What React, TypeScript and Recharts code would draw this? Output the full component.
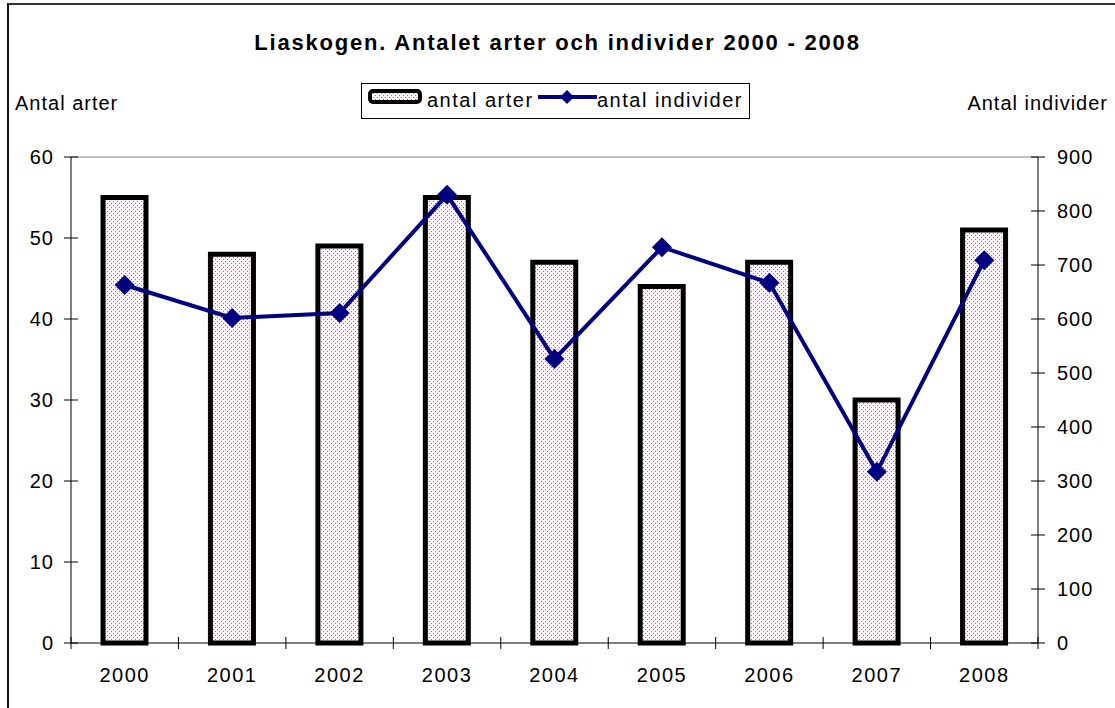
import React from 'react'
import { Bar, ComposedChart, Line, ReferenceLine, XAxis, YAxis } from 'recharts'

const years = ['2000', '2001', '2002', '2003', '2004', '2005', '2006', '2007', '2008']
const antalArter = [55, 48, 49, 55, 47, 44, 47, 30, 51]
const antalIndivider = [663, 602, 611, 830, 526, 733, 667, 317, 709]
const leftTicks = [0, 10, 20, 30, 40, 50, 60]
const rightTicks = [0, 100, 200, 300, 400, 500, 600, 700, 800, 900]

const data = years.map((year, i) => ({
  year,
  arter: antalArter[i],
  individer: antalIndivider[i],
}))

const FONT = '"Liberation Sans", Arial, sans-serif'
const NAVY = '#000080'

const LeftTick = (props: any) => {
  const { x, y, payload } = props
  return (
    <g>
      <line x1={x - 7} x2={x + 7} y1={y} y2={y} stroke="#000" />
      <text x={x - 17} y={y} dy="0.35em" textAnchor="end" fontSize={20} letterSpacing={1} fill="#000">
        {payload.value}
      </text>
    </g>
  )
}

const RightTick = (props: any) => {
  const { x, y, payload } = props
  return (
    <g>
      <line x1={x - 7} x2={x + 7} y1={y} y2={y} stroke="#000" />
      <text x={x + 19} y={y} dy="0.35em" textAnchor="start" fontSize={20} letterSpacing={1} fill="#000">
        {payload.value}
      </text>
    </g>
  )
}

const XTick = (props: any) => {
  const { x, y, payload, index, visibleTicksCount } = props
  const off = payload.offset ?? 53.7
  return (
    <g>
      <line x1={x - off} x2={x - off} y1={y - 6} y2={y + 6} stroke="#000" />
      {index === visibleTicksCount - 1 && (
        <line x1={x + off} x2={x + off} y1={y - 6} y2={y + 6} stroke="#000" />
      )}
      <text x={x} y={y + 39} textAnchor="middle" fontSize={20} letterSpacing={1.5} fill="#000">
        {payload.value}
      </text>
    </g>
  )
}

const Diamond = (props: any) => {
  const { cx, cy, index } = props
  if (cx == null || cy == null) return <g key={index} />
  const s = 10
  return (
    <path
      key={index}
      d={`M${cx},${cy - s} L${cx + s},${cy} L${cx},${cy + s} L${cx - s},${cy} Z`}
      fill={NAVY}
    />
  )
}

export default function App() {
  return (
    <div style={{ position: 'absolute', left: 0, top: 0, width: 1115, height: 708, overflow: 'hidden', fontFamily: FONT, background: '#fff' }}>
      <svg width={0} height={0} style={{ position: 'absolute' }}>
        <defs>
          <pattern id="dots" width={4} height={4} patternUnits="userSpaceOnUse">
            <rect width={4} height={4} fill="#fcf4f8" />
            <rect x={1} y={1} width={1} height={1} fill="#a07090" />
            <rect x={3} y={3} width={1} height={1} fill="#a07090" />
          </pattern>
        </defs>
      </svg>

      <div style={{ position: 'absolute', left: 0, top: 32, width: 1115, textAlign: 'center', fontSize: 22, lineHeight: '22px', fontWeight: 'bold', letterSpacing: 1.8 }}>
        Liaskogen. Antalet arter och individer 2000 - 2008
      </div>
      <div style={{ position: 'absolute', left: 15, top: 93, fontSize: 20, lineHeight: '20px', letterSpacing: 1 }}>Antal arter</div>
      <div style={{ position: 'absolute', right: 7, top: 93, fontSize: 20, lineHeight: '20px', letterSpacing: 1 }}>Antal individer</div>

      <svg style={{ position: 'absolute', left: 0, top: 0 }} width={1115} height={130}>
        <rect x={361.5} y={83.5} width={388} height={35} fill="#fff" stroke="#000" />
        <rect x={370} y={91} width={50} height={11} rx={3} fill="url(#dots)" stroke="#000" strokeWidth={4} />
        <text x={427} y={107} fontSize={20} letterSpacing={1.5} fontFamily={FONT}>antal arter</text>
        <line x1={538} x2={597} y1={97} y2={97} stroke={NAVY} strokeWidth={4} />
        <path d="M567,90 L574,97 L567,104 L560,97 Z" fill={NAVY} />
        <text x={597} y={107} fontSize={20} letterSpacing={1.5} fontFamily={FONT}>antal individer</text>
      </svg>

      <div style={{ position: 'absolute', left: 0, top: 0 }}>
        <ComposedChart
          width={1115}
          height={708}
          data={data}
          margin={{ top: 157, right: 76, bottom: 64, left: 70 }}
          style={{ fontFamily: FONT }}
        >
          <XAxis
            dataKey="year"
            height={1}
            tickSize={0}
            tickMargin={0}
            tickLine={false}
            axisLine={{ stroke: '#000' }}
            tick={<XTick />}
            interval={0}
          />
          <YAxis
            yAxisId="left"
            orientation="left"
            width={1}
            domain={[0, 60]}
            ticks={leftTicks}
            tickSize={0}
            tickMargin={0}
            tickLine={false}
            axisLine={{ stroke: '#000' }}
            tick={<LeftTick />}
            interval={0}
          />
          <YAxis
            yAxisId="right"
            orientation="right"
            width={1}
            domain={[0, 900]}
            ticks={rightTicks}
            tickSize={0}
            tickMargin={0}
            tickLine={false}
            axisLine={{ stroke: '#000' }}
            tick={<RightTick />}
            interval={0}
          />
          <ReferenceLine yAxisId="left" y={60} stroke="#808080" />
          <Bar
            yAxisId="left"
            dataKey="arter"
            name="antal arter"
            barSize={43}
            fill="url(#dots)"
            stroke="#000"
            strokeWidth={5}
            isAnimationActive={false}
          />
          <Line
            yAxisId="right"
            dataKey="individer"
            name="antal individer"
            stroke={NAVY}
            strokeWidth={4}
            dot={Diamond}
            activeDot={false}
            isAnimationActive={false}
          />
        </ComposedChart>
      </div>

      <div style={{ position: 'absolute', left: 7, top: 3, width: 1110, height: 720, borderLeft: '2px solid #111', borderTop: '2px solid #333', borderRight: '2px solid #111', boxSizing: 'border-box', pointerEvents: 'none', zIndex: 5 }} />
    </div>
  )
}
